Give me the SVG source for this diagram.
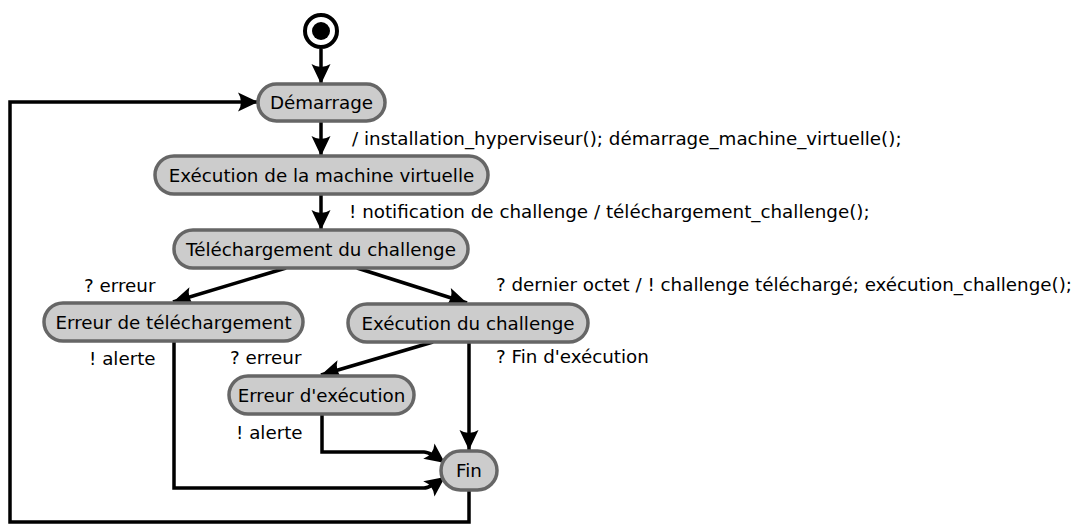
<svg xmlns="http://www.w3.org/2000/svg" width="1082" height="525" viewBox="0 0 1082 525">
<style>
.node rect{fill:#cccccc;stroke:#666666;stroke-width:3.5}
.node text{font-family:"DejaVu Sans",sans-serif;font-size:18.3px;fill:#000;text-anchor:middle}
.lbl{font-family:"DejaVu Sans",sans-serif;font-size:18.3px;fill:#000}
.edge{fill:none;stroke:#000;stroke-width:3.5;marker-end:url(#arr)}
</style>
<defs>
<marker id="arr" markerUnits="userSpaceOnUse" viewBox="-21 -10 22 20" refX="0" refY="0" markerWidth="22" markerHeight="20" orient="auto" overflow="visible">
<path d="M0,0 L-20,-9.5 Q-14,0 -20,9.5 Z" fill="#000"/>
</marker>
</defs>
<rect width="1082" height="525" fill="#fff"/>
<g id="connectors">
<path class="edge" d="M321,49 V84"/>
<path class="edge" d="M321,121 V156"/>
<path class="edge" d="M321,194 V230"/>
<path class="edge" d="M286,268 L173,302"/>
<path class="edge" d="M357,268 L467,303"/>
<path class="edge" d="M433,342 L321,375"/>
<path class="edge" d="M469,342 V450"/>
<path class="edge" d="M322,414 V452 H424 Q430,452 445,463"/>
<path class="edge" d="M174,341 V488 H424 Q430,488 445,477"/>
<path class="edge" d="M469,490 V522 H10 V102 H258"/>
</g>
<g id="start">
<circle cx="321" cy="31" r="16" fill="#fff" stroke="#000" stroke-width="4"/>
<circle cx="321" cy="31" r="9" fill="#000"/>
</g>
<g id="demarrage" class="node"><rect x="258" y="84" width="127" height="37" rx="18.5"/><text x="321.5" y="109">Démarrage</text></g>
<g id="exec_vm" class="node"><rect x="155" y="156" width="333" height="38" rx="19"/><text x="321.5" y="182">Exécution de la machine virtuelle</text></g>
<g id="telechargement" class="node"><rect x="174" y="230" width="294" height="38" rx="19"/><text x="321" y="256">Téléchargement du challenge</text></g>
<g id="erreur_tel" class="node"><rect x="44" y="303" width="259" height="38" rx="19"/><text x="173.5" y="329">Erreur de téléchargement</text></g>
<g id="exec_challenge" class="node"><rect x="348" y="304" width="240" height="38" rx="19"/><text x="468" y="330">Exécution du challenge</text></g>
<g id="erreur_exec" class="node"><rect x="229" y="376" width="185" height="38" rx="19"/><text x="321.5" y="402">Erreur d'exécution</text></g>
<g id="fin" class="node"><rect x="441" y="451" width="56" height="39" rx="19.5"/><text x="469" y="477">Fin</text></g>
<g id="labels">
<text class="lbl" x="352" y="145">/ installation_hyperviseur(); démarrage_machine_virtuelle();</text>
<text class="lbl" x="349" y="218">! notification de challenge / téléchargement_challenge();</text>
<text class="lbl" x="84" y="292">? erreur</text>
<text class="lbl" x="496" y="291">? dernier octet / ! challenge téléchargé; exécution_challenge();</text>
<text class="lbl" x="89" y="365">! alerte</text>
<text class="lbl" x="230" y="364">? erreur</text>
<text class="lbl" x="496" y="363">? Fin d'exécution</text>
<text class="lbl" x="236" y="439">! alerte</text>
</g>
</svg>
